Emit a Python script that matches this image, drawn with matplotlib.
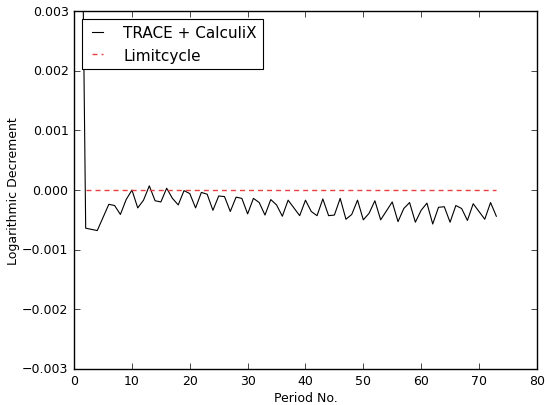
import numpy as np
import matplotlib
matplotlib.use('Agg')
import matplotlib.pyplot as plt

plt.style.use('classic')
plt.rcParams['font.size'] = 9
plt.rcParams['font.family'] = ['DejaVu Sans']

# logarithmic decrement per period
period = np.arange(1, 74)
log_dec = [
    0.0082, -0.00064, -0.00066, -0.00068, -0.00046, -0.00024, -0.00026, -0.00041,
    -0.00016, 0.0, -0.00030, -0.00017, 0.00007, -0.00018, -0.00020, 0.00003,
    -0.00014, -0.00025, -0.00001, -0.00006, -0.00030, -0.00004, -0.00007, -0.00034,
    -0.00010, -0.00011, -0.00036, -0.00012, -0.00014, -0.00040, -0.00014, -0.00021,
    -0.00042, -0.00016, -0.00025, -0.00044, -0.00017, -0.00030, -0.00043, -0.00017,
    -0.00036, -0.00043, -0.00015, -0.00043, -0.00042, -0.00014, -0.00049, -0.00041,
    -0.00017, -0.00050, -0.00039, -0.00018, -0.00050, -0.00035, -0.00020, -0.00053,
    -0.00031, -0.00021, -0.00054, -0.00034, -0.00022, -0.00057, -0.00029, -0.00028,
    -0.00054, -0.00026, -0.00031, -0.00051, -0.00023, -0.00036, -0.00049, -0.00021,
    -0.00044,
]
limit_x = np.arange(2, 74)
limit_y = np.zeros(len(limit_x))

fig = plt.figure(figsize=(5.45, 4.06), dpi=100, facecolor='white')
ax = fig.add_axes([0.136, 0.089, 0.849, 0.881])
ax.plot(period, log_dec, color='k', lw=0.8, label='TRACE + CalculiX')
ax.plot(limit_x, limit_y, color='#e84040', ls='--', dashes=(3.6, 2.9), lw=1.0,
        label='Limitcycle')
ax.set_xlim(0, 80)
ax.set_ylim(-0.003, 0.003)
ax.set_xlabel('Period No.', labelpad=2.5)
ax.set_ylabel('Logarithmic Decrement', labelpad=1.5)
leg = ax.legend(loc='upper left', fontsize=11, fancybox=False,
                handlelength=1.3, handletextpad=1.0)
leg.get_frame().set_linewidth(0.8)
fig.savefig('out.png', dpi=100, facecolor='white')
